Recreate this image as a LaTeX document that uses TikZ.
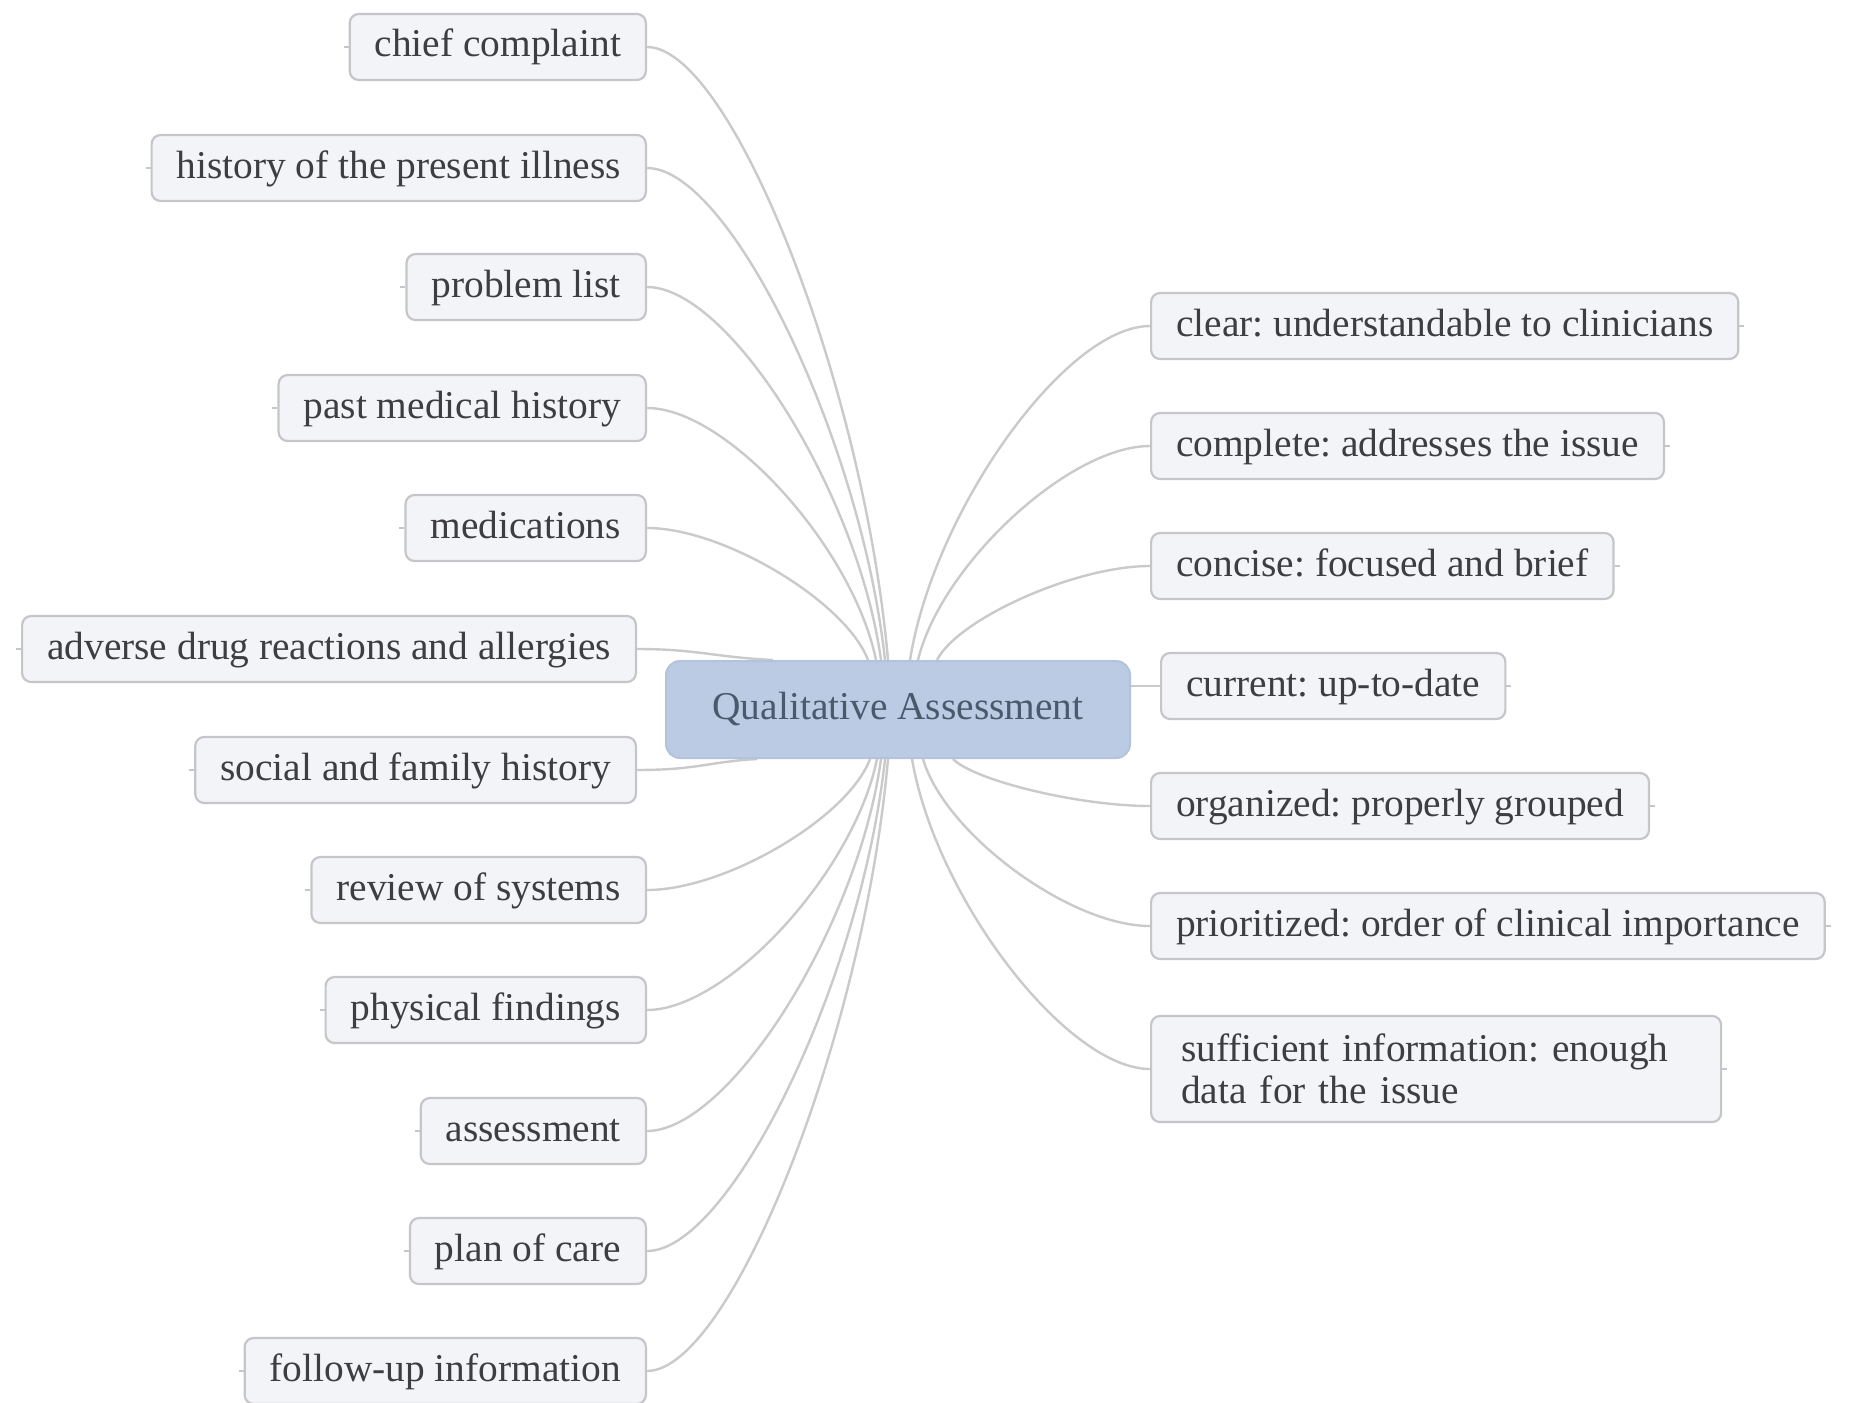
\documentclass[tikz,border=0pt]{standalone}
\usepackage{fontspec}
\setmainfont{Liberation Serif}
\frenchspacing
\usetikzlibrary{calc,backgrounds}
\definecolor{leaffill}{HTML}{F3F4F8}
\definecolor{leafdraw}{HTML}{C6C6CA}
\definecolor{leaftext}{HTML}{3E3E40}
\definecolor{ctrfill}{HTML}{BACBE3}
\definecolor{ctrdraw}{HTML}{B2C3DB}
\definecolor{ctrtext}{HTML}{4A5A6C}
\definecolor{conncol}{HTML}{CACACA}
\tikzset{
  leafbase/.style={draw=leafdraw, line width=1.1pt, fill=leaffill, rounded corners=4.5pt,
    text=leaftext, font=\fontsize{19.7}{21}\selectfont},
  leaf/.style={leafbase, inner xsep=12.5pt, inner ysep=7.5pt, text height=14pt, text depth=4pt},
  lleaf/.style={leaf, anchor=east},
  rleaf/.style={leaf, anchor=west},
  center/.style={draw=ctrdraw, line width=1pt, fill=ctrfill, rounded corners=7pt,
    text=ctrtext, font=\fontsize{19.7}{21}\selectfont, minimum width=232pt, minimum height=48.5pt},
  conn/.style={draw=conncol, line width=1.2pt},
  stub/.style={draw=leafdraw, line width=1pt}
}
\begin{document}
\begin{tikzpicture}[x=0.5pt,y=-0.5pt]
\useasboundingbox (0,0) rectangle (1850,1402);

\node[center] (ctr) at (898,709.5) {Qualitative Assessment};

% left nodes
\node[lleaf] (cc)  at (647,47)   {chief complaint};
\node[lleaf] (hpi) at (647,168)  {history of the present illness};
\node[lleaf] (pl)  at (647,287)  {problem list};
\node[lleaf] (pmh) at (647,408)  {past medical history};
\node[lleaf] (med) at (647,528)  {medications};
\node[lleaf] (adr) at (637,649)  {adverse drug reactions and allergies};
\node[lleaf] (sfh) at (637,770)  {social and family history};
\node[lleaf] (ros) at (647,890)  {review of systems};
\node[lleaf] (pf)  at (647,1010) {physical findings};
\node[lleaf] (asm) at (647,1131) {assessment};
\node[lleaf] (poc) at (647,1251) {plan of care};
\node[lleaf] (fu)  at (647,1371) {follow-up information};

% right nodes
\node[rleaf] (clr) at (1150,326) {clear: understandable to clinicians};
\node[rleaf] (cmp) at (1150,446) {complete: addresses the issue};
\node[rleaf] (cns) at (1150,566) {concise: focused and brief};
\node[rleaf] (cur) at (1160,686) {current: up-to-date};
\node[rleaf] (org) at (1150,806) {organized: properly grouped};
\node[rleaf] (pri) at (1150,926) {prioritized: order of clinical importance};
\node[leafbase, anchor=west, align=left, text width=255pt, inner xsep=15pt, inner ysep=9pt] (suf) at (1150,1069)
  {sufficient information: enough\\data for the issue};

\begin{scope}[on background layer]
\fill[white] (0,0) rectangle (1850,1402);
% upper left
\draw[conn] (cc.east)  .. controls +(84,0) and +(-24,-275) .. ($(ctr.north)+(-10,0)$);
\draw[conn] (hpi.east) .. controls +(83,0) and +(-24,-220) .. ($(ctr.north)+(-13,0)$);
\draw[conn] (pl.east)  .. controls +(82,0) and +(-23,-167) .. ($(ctr.north)+(-17,0)$);
\draw[conn] (pmh.east) .. controls +(80,0) and +(-23,-112) .. ($(ctr.north)+(-22,0)$);
\draw[conn] (med.east) .. controls +(77,0) and +(-22,-58)  .. ($(ctr.north)+(-30,0)$);
\draw[conn] (adr.east) .. controls +(60,0) and +(-60,-3)   .. ($(ctr.north)+(-125,0)$);
% lower left
\draw[conn] (sfh.east) .. controls +(60,0) and +(-50,3)    .. ($(ctr.south)+(-141,0)$);
\draw[conn] (ros.east) .. controls +(78,0) and +(-22,59)   .. ($(ctr.south)+(-28,0)$);
\draw[conn] (pf.east)  .. controls +(80,0) and +(-23,113)  .. ($(ctr.south)+(-21,0)$);
\draw[conn] (asm.east) .. controls +(82,0) and +(-23,168)  .. ($(ctr.south)+(-17,0)$);
\draw[conn] (poc.east) .. controls +(83,0) and +(-24,222)  .. ($(ctr.south)+(-13,0)$);
\draw[conn] (fu.east)  .. controls +(84,0) and +(-24,275)  .. ($(ctr.south)+(-10,0)$);
% right
\draw[conn] (clr.west) .. controls +(-84,0) and +(24,-150) .. ($(ctr.north)+(12,0)$);
\draw[conn] (cmp.west) .. controls +(-81,0) and +(23,-95)  .. ($(ctr.north)+(20,0)$);
\draw[conn] (cns.west) .. controls +(-75,0) and +(21,-41)  .. ($(ctr.north)+(39,0)$);
\draw[conn] (ctr.east |- cur.west) -- (cur.west);
\draw[conn] (org.west) .. controls +(-70,0) and +(22,22)   .. ($(ctr.south)+(55,0)$);
\draw[conn] (pri.west) .. controls +(-80,0) and +(22,75)   .. ($(ctr.south)+(25,0)$);
\draw[conn] (suf.west) .. controls +(-83,0) and +(24,140)  .. ($(ctr.south)+(14,0)$);
\end{scope}

% small stubs on outer edges
\foreach \n in {cc,hpi,pl,pmh,med,adr,sfh,ros,pf,asm,poc,fu}
  \draw[stub] (\n.west) -- ++(-5,0);
\foreach \n in {clr,cmp,cns,cur,org,pri,suf}
  \draw[stub] (\n.east) -- ++(5,0);
\end{tikzpicture}
\end{document}
